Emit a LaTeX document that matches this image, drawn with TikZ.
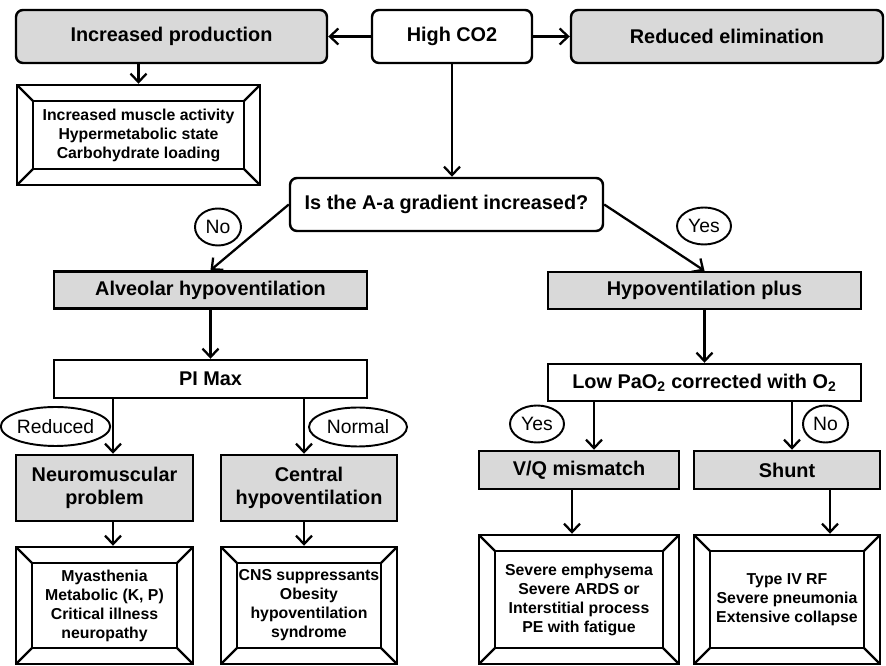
\documentclass[tikz,border=0pt]{standalone}
\usepackage{fontspec}
\setmainfont{Liberation Sans}
\usetikzlibrary{arrows.meta, shapes.geometric}
\definecolor{cbox}{HTML}{D9D9D9}
\tikzset{
  every picture/.style={line width=1.3pt},
  hd/.style={font=\fontsize{11.3}{13.4}\selectfont\bfseries, align=center, inner sep=2pt},
  rbox/.style={hd, draw, line width=1.4pt, rounded corners=4pt, fill=white},
  gbox/.style={rbox, fill=cbox},
  sqbox/.style={hd, draw, line width=1.4pt, fill=white},
  gsq/.style={sqbox, fill=cbox},
  bevel/.style={draw, line width=1.4pt, align=center, inner sep=0pt,
    font=\fontsize{9}{10.8}\selectfont\bfseries,
    path picture={
      \draw[line width=1.3pt] ([shift={(.32,.32)}]path picture bounding box.south west)
        rectangle ([shift={(-.32,-.32)}]path picture bounding box.north east);
      \draw[line width=1.3pt] (path picture bounding box.south west) -- ++(.32,.32);
      \draw[line width=1.3pt] (path picture bounding box.north east) -- ++(-.32,-.32);
      \draw[line width=1.3pt] (path picture bounding box.south east) -- ++(-.32,.32);
      \draw[line width=1.3pt] (path picture bounding box.north west) -- ++(.32,-.32);
    }},
  tag/.style={ellipse, draw, line width=1.1pt, inner sep=0pt, font=\fontsize{11}{13}\selectfont},
  arrow/.style={-{Straight Barb[length=1.7mm, width=3.2mm]}, line width=1.3pt},
}
\begin{document}
\begin{tikzpicture}
  \useasboundingbox (0,0) rectangle (17.72,-13.32);

  % top row
  \node[gbox, minimum width=6.22cm, minimum height=1.06cm] (prod) at (3.43,-0.73) {Increased production};
  \node[rbox, minimum width=3.2cm, minimum height=1.06cm] (co2) at (9.04,-0.73) {High CO2};
  \node[gbox, minimum width=6.24cm, minimum height=1.06cm] (elim) at (14.54,-0.73) {Reduced elimination};
  \node[bevel, minimum width=4.86cm, minimum height=2cm] (prodlist) at (2.77,-2.7)
    {Increased muscle activity\\Hypermetabolic state\\Carbohydrate loading};
  \draw[arrow] (co2) -- (prod);
  \draw[arrow] (co2) -- (elim);
  \draw[arrow] (prod.south -| prodlist) -- (prodlist);

  % the gradient question
  \node[rbox, minimum width=6.26cm, minimum height=1.06cm] (grad) at (8.93,-4.09) {Is the A-a gradient increased?};
  \node[tag, minimum width=0.92cm, minimum height=0.74cm] (no1) at (4.36,-4.54) {No};
  \node[tag, minimum width=1.08cm, minimum height=0.74cm] (yes1) at (14.08,-4.52) {Yes};
  \node[gsq, minimum width=6.26cm, minimum height=0.74cm] (alv) at (4.21,-5.8) {Alveolar hypoventilation};
  \node[gsq, minimum width=6.26cm, minimum height=0.74cm] (hyp) at (14.09,-5.81) {Hypoventilation plus};
  \draw[arrow] (co2.south) -- (co2.south |- grad.north);
  \draw[arrow] (grad.west) -- (alv.north);
  \draw[arrow] (grad.east) -- (hyp.north);

  % left branch
  \node[sqbox, minimum width=6.26cm, minimum height=0.76cm] (pimax) at (4.21,-7.58) {PI Max};
  \node[tag, minimum width=1.94cm, minimum height=0.78cm] (red) at (1.11,-8.53) {Reduced};
  \node[tag, minimum width=1.96cm, minimum height=0.78cm] (norm) at (7.16,-8.54) {Normal};
  \node[gsq, minimum width=3.54cm, minimum height=1.32cm] (neuro) at (2.09,-9.76) {Neuromuscular\\problem};
  \node[gsq, minimum width=3.52cm, minimum height=1.32cm] (cent) at (6.18,-9.76) {Central\\hypoventilation};
  \node[bevel, minimum width=3.54cm, minimum height=2.34cm] (neurolist) at (2.09,-12.11)
    {Myasthenia\\Metabolic (K, P)\\Critical illness\\neuropathy};
  \node[bevel, minimum width=3.52cm, minimum height=2.34cm] (centlist) at (6.18,-12.11)
    {CNS suppressants\\Obesity\\hypoventilation\\syndrome};
  \draw[arrow] (alv) -- (pimax);

  % right branch
  \node[sqbox, minimum width=6.26cm, minimum height=0.74cm] (lowpa) at (14.09,-7.65)
    {Low PaO\textsubscript{2} corrected with O\textsubscript{2}};
  \node[tag, minimum width=1.08cm, minimum height=0.74cm] (yes2) at (10.74,-8.48) {Yes};
  \node[tag, minimum width=0.9cm, minimum height=0.74cm] (no2) at (16.51,-8.48) {No};
  \node[gsq, minimum width=4cm, minimum height=0.76cm] (vq) at (11.58,-9.4) {V/Q mismatch};
  \node[gsq, minimum width=3.72cm, minimum height=0.76cm] (shunt) at (15.74,-9.4) {Shunt};
  \node[bevel, minimum width=4cm, minimum height=2.58cm] (vqlist) at (11.58,-11.99)
    {Severe emphysema\\Severe ARDS or\\Interstitial process\\PE with fatigue};
  \node[bevel, minimum width=3.72cm, minimum height=2.58cm] (shuntlist) at (15.74,-11.99)
    {Type IV RF\\Severe pneumonia\\Extensive collapse};
  \draw[arrow] (hyp) -- (lowpa);

  % columns of the short down arrows
  \coordinate (nmx) at (2.26,0);
  \coordinate (cnx) at (6.08,0);
  \coordinate (vqa) at (11.88,0);
  \coordinate (vqb) at (11.44,0);
  \coordinate (sha) at (15.84,0);
  \coordinate (shb) at (16.6,0);
  \foreach \a/\b/\c in {pimax/neuro/nmx, neuro/neurolist/nmx, pimax/cent/cnx, cent/centlist/cnx,
                        lowpa/vq/vqa, vq/vqlist/vqb, lowpa/shunt/sha, shunt/shuntlist/shb}
    \draw[arrow] (\a.south -| \c) -- (\b.north -| \c);
\end{tikzpicture}
\end{document}
